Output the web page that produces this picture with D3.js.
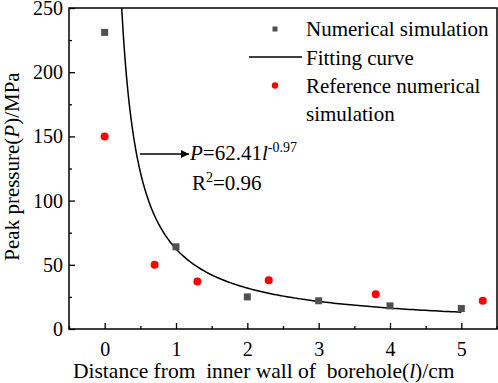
<!DOCTYPE html>
<html>
<head>
<meta charset="utf-8">
<script src="https://cdn.jsdelivr.net/npm/d3@7"></script>
<style>
  body { margin: 0; background: #fff; }
</style>
</head>
<body>
<div id="wrapper"></div>
<script>
// data
const simX = [0, 1, 2, 3, 4, 5];
const simY = [231, 64, 25, 22, 18, 16];
const refX = [0, 0.7, 1.3, 2.3, 3.8, 5.3];
const refY = [150, 50, 37, 38, 27, 22];
// fit given on the chart: P = 62.41 l^-0.97
const fitA = 62.41;
const fitB = -0.97;
const xTicks = [0, 1, 2, 3, 4, 5];
const yTicks = [0, 50, 100, 150, 200, 250];
const legendLabels = ["Numerical simulation", "Fitting curve", "Reference numerical", "simulation"];

const fontName = '"Liberation Serif"';

function drawChart() {
    const dimensions = {
        width: 498,
        height: 383,
        margin: { top: 8, right: 1, bottom: 54, left: 69 }
    };
    dimensions.boundedWidth = dimensions.width - dimensions.margin.left - dimensions.margin.right;
    dimensions.boundedHeight = dimensions.height - dimensions.margin.top - dimensions.margin.bottom;

    const wrapper = d3.select('#wrapper')
        .append('svg')
        .attr('width', dimensions.width)
        .attr('height', dimensions.height);

    const bounds = wrapper.append('g')
        .attr('transform', `translate(${dimensions.margin.left},${dimensions.margin.top})`);

    const xScale = d3.scaleLinear()
        .domain([-0.5, 5.5])
        .range([0, dimensions.boundedWidth]);
    const yScale = d3.scaleLinear()
        .domain([0, 250])
        .range([dimensions.boundedHeight, 0]);

    // axes, ticks inward
    const xAxis = bounds.append('g')
        .attr('transform', `translate(0,${dimensions.boundedHeight})`)
        .call(d3.axisBottom(xScale).tickValues(xTicks).tickSize(-6).tickPadding(13).tickFormat(d3.format('d')));
    bounds.append('g')
        .attr('transform', `translate(0,${dimensions.boundedHeight})`)
        .call(d3.axisBottom(xScale).tickValues(d3.range(-0.5, 5.6, 1)).tickSize(-3).tickFormat(''));
    const yAxis = bounds.append('g')
        .call(d3.axisLeft(yScale).tickValues(yTicks).tickSize(-6).tickPadding(6));
    bounds.append('g')
        .call(d3.axisLeft(yScale).tickValues(d3.range(25, 250, 50)).tickSize(-3).tickFormat(''));

    bounds.selectAll('.domain').remove();
    bounds.selectAll('.tick line').attr('stroke', '#000').attr('stroke-width', 1.3);
    xAxis.selectAll('.tick text').attr('dy', '0.71em');

    // frame
    bounds.append('rect')
        .attr('width', dimensions.boundedWidth)
        .attr('height', dimensions.boundedHeight)
        .attr('fill', 'none')
        .attr('stroke', '#000')
        .attr('stroke-width', 1.5);

    // fitted curve, from where it leaves the top to l = 5
    const lStart = Math.pow(250 / fitA, 1 / fitB);
    const fitPts = d3.range(0, 201).map(i => {
        const l = lStart + (5 - lStart) * Math.pow(i / 200, 2);
        return [l, fitA * Math.pow(l, fitB)];
    });
    const lineDrawer = d3.line()
        .x(d => xScale(d[0]))
        .y(d => yScale(d[1]));
    bounds.append('path')
        .attr('d', lineDrawer(fitPts))
        .attr('fill', 'none')
        .attr('stroke', '#000')
        .attr('stroke-width', 1.5);

    // numerical simulation
    const sq = 7;
    bounds.selectAll('.sim')
        .data(simX)
        .join('rect')
        .attr('x', (d, i) => xScale(d) - sq / 2)
        .attr('y', (d, i) => yScale(simY[i]) - sq / 2)
        .attr('width', sq)
        .attr('height', sq)
        .attr('fill', '#505050');

    // reference numerical simulation
    bounds.selectAll('.ref')
        .data(refX)
        .join('circle')
        .attr('cx', d => xScale(d))
        .attr('cy', (d, i) => yScale(refY[i]))
        .attr('r', 4)
        .attr('fill', '#ff0000');

    // annotation
    wrapper.append('defs').append('marker')
        .attr('id', 'arrow')
        .attr('viewBox', '0 0 10 10')
        .attr('refX', 10).attr('refY', 5)
        .attr('markerWidth', 10).attr('markerHeight', 8)
        .attr('markerUnits', 'userSpaceOnUse')
        .attr('orient', 'auto')
        .append('path')
        .attr('d', 'M0,0L10,5L0,10z')
        .attr('fill', '#000');
    wrapper.append('line')
        .attr('x1', 140).attr('y1', 154)
        .attr('x2', 189).attr('y2', 154)
        .attr('stroke', '#000')
        .attr('stroke-width', 1.3)
        .attr('marker-end', 'url(#arrow)');
    const eq = wrapper.append('text')
        .attr('x', 190).attr('y', 160)
        .style('font-size', '21px');
    eq.append('tspan').style('font-style', 'italic').text('P');
    eq.append('tspan').text('=62.41');
    eq.append('tspan').style('font-style', 'italic').text('l');
    eq.append('tspan').attr('dy', -8).style('font-size', '14px').text('-0.97');
    const r2 = wrapper.append('text')
        .attr('x', 192).attr('y', 190)
        .style('font-size', '21px');
    r2.append('tspan').text('R');
    r2.append('tspan').attr('dy', -8).style('font-size', '14px').text('2');
    r2.append('tspan').attr('dy', 8).text('=0.96');

    // legend
    const legend = wrapper.append('g');
    legend.append('rect')
        .attr('x', 272.5).attr('y', 26.5).attr('width', 5).attr('height', 5)
        .attr('fill', '#505050');
    legend.append('line')
        .attr('x1', 249).attr('x2', 302).attr('y1', 57).attr('y2', 57)
        .attr('stroke', '#000').attr('stroke-width', 1.5);
    legend.append('circle')
        .attr('cx', 275).attr('cy', 85.5).attr('r', 3.2)
        .attr('fill', '#ff0000');
    legend.selectAll('text')
        .data(legendLabels)
        .join('text')
        .attr('x', 306)
        .attr('y', (d, i) => [36, 65, 93, 121][i])
        .style('font-size', '21px')
        .text(d => d);

    // axis titles
    const xTitle = wrapper.append('text')
        .attr('x', 73)
        .attr('y', 378)
        .style('font-size', '21.5px')
        .style('white-space', 'pre');
    xTitle.append('tspan').text('Distance from  inner wall of  borehole(');
    xTitle.append('tspan').style('font-style', 'italic').text('l');
    xTitle.append('tspan').text(')/cm');

    const yTitle = wrapper.append('text')
        .attr('transform', 'translate(19,166.5) rotate(-90)')
        .attr('text-anchor', 'middle')
        .style('font-size', '21px');
    yTitle.append('tspan').text('Peak pressure(');
    yTitle.append('tspan').style('font-style', 'italic').text('P');
    yTitle.append('tspan').text(')/MPa');

    // one font for every text
    wrapper.selectAll('text')
        .style('font-family', fontName)
        .style('fill', '#000');
    wrapper.selectAll('.tick text').style('font-size', '20px');
}

drawChart();
</script>
</body>
</html>
